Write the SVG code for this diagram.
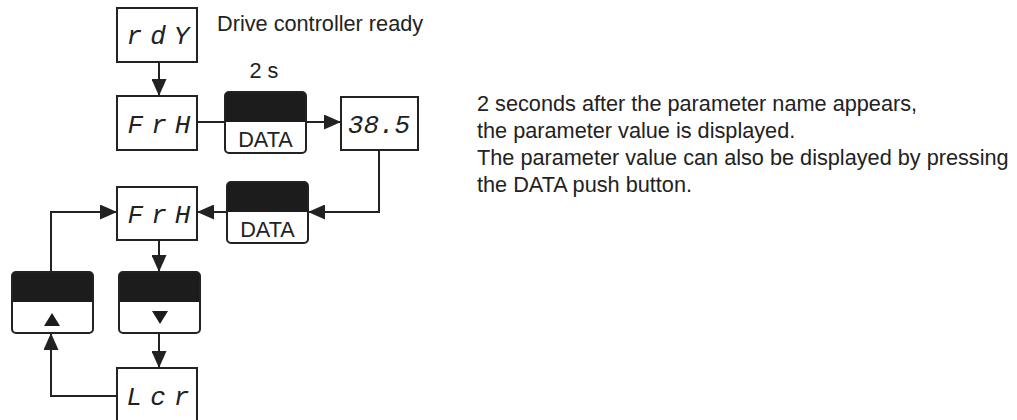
<svg xmlns="http://www.w3.org/2000/svg" xmlns:xlink="http://www.w3.org/1999/xlink" width="1017" height="420" viewBox="0 0 1017 420">
  <style>
    .box { fill: #fff; stroke: #222; stroke-width: 2; }
    .wire { fill: none; stroke: #222; stroke-width: 2; marker-end: url(#head); }
    .plain { fill: none; stroke: #222; stroke-width: 2; }
    .seg { font-family: "Liberation Mono", "DejaVu Sans Mono", monospace; font-style: italic; font-size: 26px; fill: #222; text-anchor: middle; }
    .label { font-family: "Liberation Sans", Arial, sans-serif; font-size: 21.7px; fill: #222; }
    .key { font-family: "Liberation Sans", Arial, sans-serif; font-size: 21.7px; fill: #222; text-anchor: middle; }
  </style>
  <defs>
    <marker id="head" markerUnits="userSpaceOnUse" markerWidth="17" markerHeight="15" refX="17" refY="7.5" orient="auto">
      <path d="M0,0 L17,7.5 L0,15 Z" fill="#222"/>
    </marker>
    <!-- push button: dark upper half, light lower half, rounded corners -->
    <g id="key">
      <rect x="0" y="0" width="81" height="61" rx="4" fill="#fff"/>
      <path d="M0,30 V4 Q0,0 4,0 H77 Q81,0 81,4 V30 Z" fill="#1c1c1c"/>
      <rect x="0" y="0" width="81" height="61" rx="4" fill="none" stroke="#222" stroke-width="2"/>
    </g>
  </defs>

  <rect width="1017" height="420" fill="#fff"/>

  <!-- connectors -->
  <g id="connectors">
    <line class="wire" x1="159" y1="62" x2="159" y2="96"/>
    <line class="wire" x1="197" y1="122" x2="341" y2="122"/>
    <polyline class="wire" points="379,150 379,212 308,212"/>
    <line class="wire" x1="227" y1="212" x2="197" y2="212"/>
    <line class="wire" x1="159" y1="240" x2="159" y2="272"/>
    <line class="wire" x1="159" y1="333" x2="159" y2="368"/>
    <polyline class="wire" points="117,396 51,396 51,333"/>
    <polyline class="wire" points="51,272 51,212 117,212"/>
  </g>

  <g id="n-rdy">
    <rect class="box" x="117" y="8" width="80" height="54"/>
    <text class="seg" x="162" y="44" letter-spacing="8">rdY</text>
  </g>
  <text id="t-ready" class="label" x="217" y="31">Drive controller ready</text>

  <g id="n-frh1">
    <rect class="box" x="117" y="96" width="80" height="54"/>
    <text class="seg" x="163" y="133" letter-spacing="8">FrH</text>
  </g>

  <g id="btn-data1">
    <use xlink:href="#key" x="225" y="92"/>
    <text class="key" x="265.5" y="147">DATA</text>
  </g>
  <text id="t-delay" class="key" x="264" y="78">2 s</text>

  <g id="n-value">
    <rect class="box" x="341" y="97" width="77" height="53"/>
    <text class="seg" x="379" y="133">38.5</text>
  </g>

  <g id="btn-data2">
    <use xlink:href="#key" x="227" y="182"/>
    <text class="key" x="267.5" y="237">DATA</text>
  </g>

  <g id="n-frh2">
    <rect class="box" x="117" y="187" width="80" height="53"/>
    <text class="seg" x="163" y="223" letter-spacing="8">FrH</text>
  </g>

  <g id="btn-up">
    <use xlink:href="#key" x="12" y="272"/>
    <polygon points="52,313 60,326 44,326" fill="#1c1c1c"/>
  </g>

  <g id="btn-down">
    <use xlink:href="#key" x="119" y="272"/>
    <polygon points="152,311 168,311 160,324" fill="#1c1c1c"/>
  </g>

  <g id="n-lcr">
    <rect class="box" x="117" y="368" width="80" height="54"/>
    <text class="seg" x="162" y="405" letter-spacing="8">Lcr</text>
  </g>

  <g id="notes">
    <text class="label" x="477" y="111">2 seconds after the parameter name appears,</text>
    <text class="label" x="477" y="138">the parameter value is displayed.</text>
    <text class="label" x="477" y="165">The parameter value can also be displayed by pressing</text>
    <text class="label" x="477" y="192">the DATA push button.</text>
  </g>
</svg>
